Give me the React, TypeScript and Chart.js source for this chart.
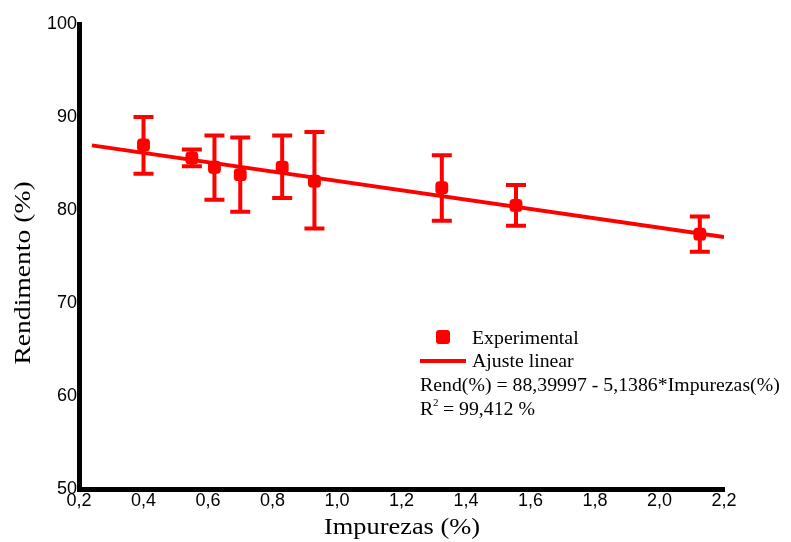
import React, { useEffect, useRef } from "react";
import { Chart, registerables } from "chart.js";

Chart.register(...registerables);

// Experimental points (Impurezas %, Rendimento %)
const impurezas = [0.4, 0.55, 0.62, 0.7, 0.83, 0.93, 1.325, 1.555, 2.125];
const rendimento = [87.0, 85.6, 84.6, 83.8, 84.6, 83.1, 82.4, 80.5, 77.4];
const errorUpper = [90.0, 86.5, 88.0, 87.8, 88.0, 88.4, 85.9, 82.7, 79.3];
const errorLower = [83.9, 84.7, 81.1, 79.8, 81.3, 78.0, 78.85, 78.3, 75.5];

// Linear fit line endpoints
const fitX = [0.24, 2.2];
const fitY = [86.95, 77.1];

const xTitle = "Impurezas (%)";
const yTitle = "Rendimento (%)";
const legendExp = "Experimental";
const legendFit = "Ajuste linear";
const equation = "Rend(%) = 88,39997 - 5,1386*Impurezas(%)";
const r2Label = "R";
const r2Value = " = 99,412 %";

const RED = "#ff0000";
const SERIF = '"Liberation Serif", "Times New Roman", serif';
const SANS = '"Liberation Sans", Arial, sans-serif';

function stretchText(ctx: CanvasRenderingContext2D, text: string, x: number, y: number, sx: number) {
  ctx.save();
  ctx.translate(x, y);
  ctx.scale(sx, 1);
  ctx.fillText(text, 0, 0);
  ctx.restore();
}

const errorBarPlugin = {
  id: "errorBars",
  beforeDatasetsDraw(chart: any) {
    const { ctx } = chart;
    const xs = chart.scales.x;
    const ys = chart.scales.y;
    ctx.save();
    ctx.strokeStyle = RED;
    ctx.lineWidth = 4;
    ctx.lineCap = "butt";
    for (let i = 0; i < impurezas.length; i++) {
      const px = xs.getPixelForValue(impurezas[i]);
      const pt = ys.getPixelForValue(errorUpper[i]);
      const pb = ys.getPixelForValue(errorLower[i]);
      ctx.beginPath();
      ctx.moveTo(px, pt);
      ctx.lineTo(px, pb);
      ctx.moveTo(px - 10, pt);
      ctx.lineTo(px + 10, pt);
      ctx.moveTo(px - 10, pb);
      ctx.lineTo(px + 10, pb);
      ctx.stroke();
    }
    ctx.restore();
  },
};

const annotationPlugin = {
  id: "annotations",
  afterDraw(chart: any) {
    const { ctx } = chart;
    ctx.save();
    ctx.fillStyle = "#000";
    // axis titles
    ctx.font = `24px ${SERIF}`;
    ctx.textBaseline = "middle";
    ctx.textAlign = "center";
    stretchText(ctx, xTitle, 402, 528, 1.1);
    ctx.save();
    ctx.translate(24, 273);
    ctx.rotate(-Math.PI / 2);
    stretchText(ctx, yTitle, 0, 0, 1.15);
    ctx.restore();

    // legend
    ctx.fillStyle = RED;
    ctx.beginPath();
    (ctx as any).roundRect(436, 330, 14, 14, 3);
    ctx.fill();
    ctx.strokeStyle = RED;
    ctx.lineWidth = 4;
    ctx.beginPath();
    ctx.moveTo(420, 361);
    ctx.lineTo(466, 361);
    ctx.stroke();

    ctx.fillStyle = "#000";
    ctx.textAlign = "left";
    ctx.textBaseline = "alphabetic";
    ctx.font = `18px ${SERIF}`;
    stretchText(ctx, legendExp, 472, 344, 1.1);
    stretchText(ctx, legendFit, 472, 367, 1.1);
    stretchText(ctx, equation, 420, 391, 1.1);
    stretchText(ctx, r2Label, 420, 415, 1.1);
    ctx.font = `10px ${SERIF}`;
    stretchText(ctx, "2", 433, 406, 1.1);
    ctx.font = `18px ${SERIF}`;
    stretchText(ctx, r2Value, 438, 415, 1.1);
    ctx.restore();
  },
};

export default function App() {
  const canvasRef = useRef<HTMLCanvasElement | null>(null);

  useEffect(() => {
    const canvas = canvasRef.current;
    if (!canvas) return;
    const chart = new Chart(canvas, {
      type: "scatter",
      data: {
        datasets: [
          {
            label: legendExp,
            data: impurezas.map((x, i) => ({ x, y: rendimento[i] })),
            backgroundColor: RED,
            borderColor: RED,
            pointStyle: "rectRounded",
            pointRadius: 7.5,
            pointBorderWidth: 0,
            showLine: false,
            order: 1,
          },
          {
            type: "line",
            label: legendFit,
            data: fitX.map((x, i) => ({ x, y: fitY[i] })),
            borderColor: RED,
            borderWidth: 4,
            pointRadius: 0,
            showLine: true,
            fill: false,
            order: 2,
          } as any,
        ],
      },
      options: {
        responsive: false,
        animation: false,
        events: [],
        layout: { padding: { top: 24, right: 67, left: 0, bottom: 0 } },
        plugins: {
          legend: { display: false },
          tooltip: { enabled: false },
          title: { display: false },
        },
        scales: {
          x: {
            type: "linear",
            min: 0.2,
            max: 2.2,
            afterFit(scale: any) {
              scale.height = 53;
            },
            grid: { display: false, drawTicks: false },
            border: { display: true, color: "#000", width: 5 },
            ticks: {
              stepSize: 0.2,
              autoSkip: false,
              maxRotation: 0,
              padding: 1,
              color: "#000",
              font: { family: SANS, size: 18 },
              callback: (v: any) => Number(v).toFixed(1).replace(".", ","),
            },
          },
          y: {
            type: "linear",
            min: 50,
            max: 100,
            afterFit(scale: any) {
              scale.width = 79;
            },
            grid: { display: false, drawTicks: false },
            border: { display: true, color: "#000", width: 5 },
            ticks: {
              stepSize: 10,
              padding: 2,
              color: "#000",
              font: { family: SANS, size: 18 },
            },
          },
        },
      },
      plugins: [errorBarPlugin, annotationPlugin],
    });
    return () => chart.destroy();
  }, []);

  return (
    <div style={{ position: "absolute", left: 0, top: 0, width: 791, height: 542, background: "#fff" }}>
      <canvas ref={canvasRef} width={791} height={542} />
    </div>
  );
}
